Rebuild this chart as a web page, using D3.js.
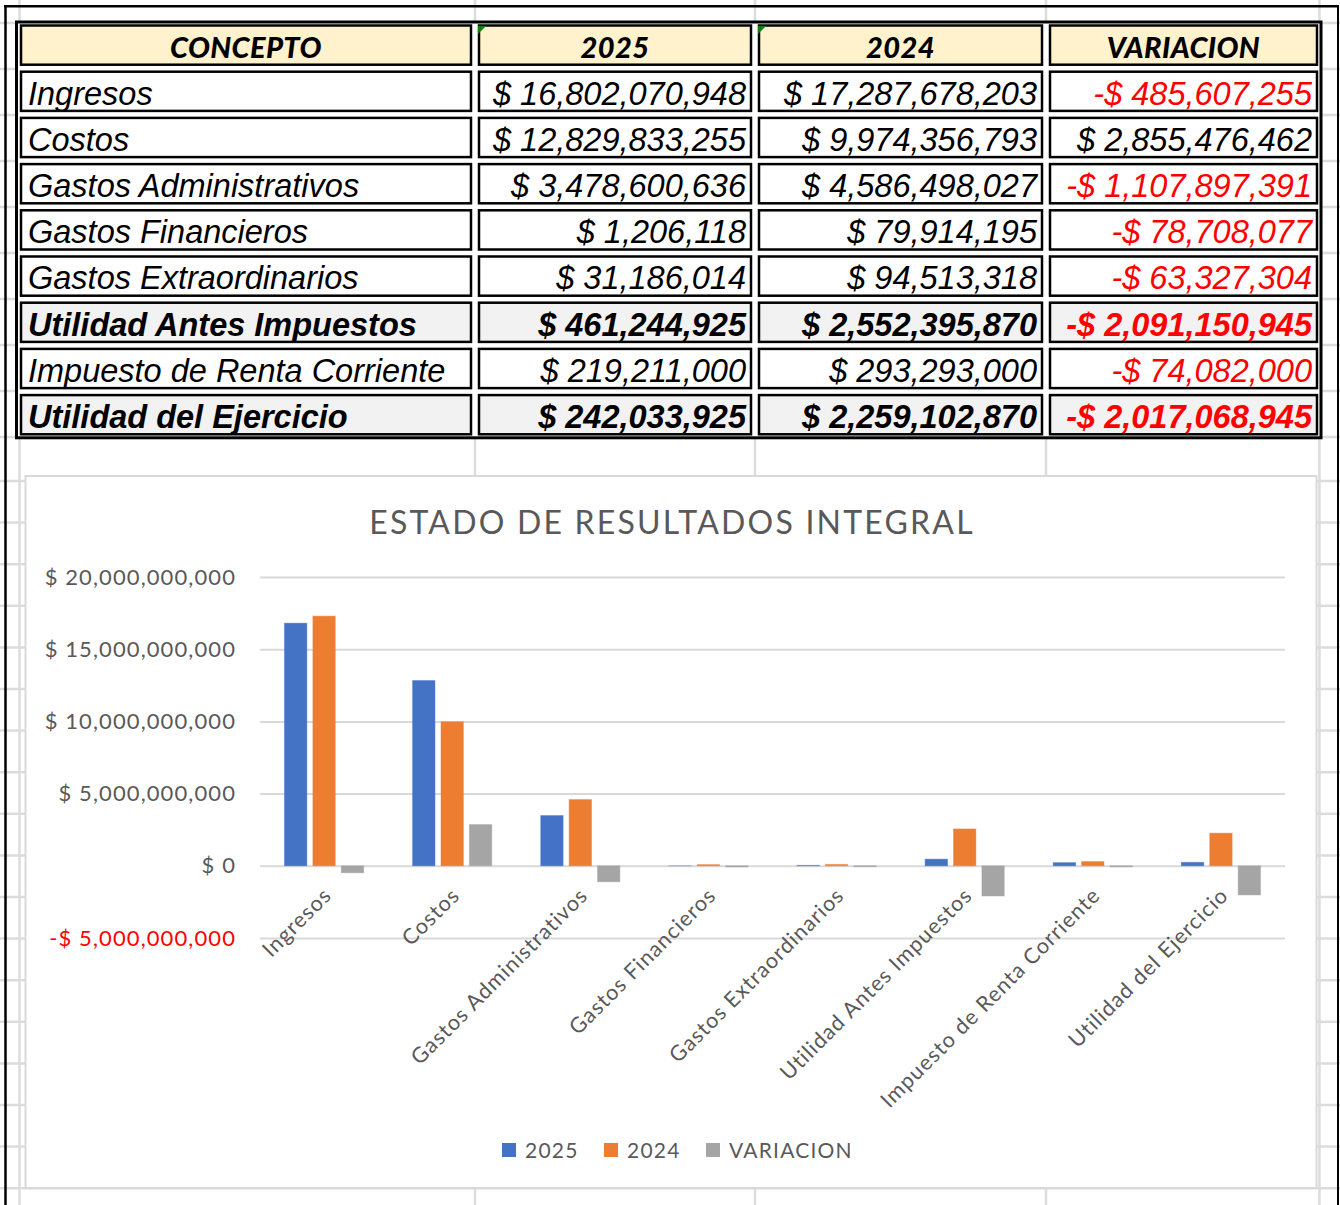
<!DOCTYPE html>
<html>
<head>
<meta charset="utf-8">
<script src="https://cdn.jsdelivr.net/npm/d3@7"></script>
<style>
	body { margin: 0; background: #ffffff; }
	svg { display: block; }
</style>
</head>
<body>
<div id="sheet_div" style="width:1340px;height:1205px;"></div>
<script>
var encabezados = ['CONCEPTO', '2025', '2024', 'VARIACION'];
var conceptos = [
	'Ingresos',
	'Costos',
	'Gastos Administrativos',
	'Gastos Financieros',
	'Gastos Extraordinarios',
	'Utilidad Antes Impuestos',
	'Impuesto de Renta Corriente',
	'Utilidad del Ejercicio',
];
var valores_2025 = [16802070948, 12829833255, 3478600636, 1206118, 31186014, 461244925, 219211000, 242033925];
var valores_2024 = [17287678203, 9974356793, 4586498027, 79914195, 94513318, 2552395870, 293293000, 2259102870];
var variacion = [-485607255, 2855476462, -1107897391, -78708077, -63327304, -2091150945, -74082000, -2017068945];
var filas_total = ['Utilidad Antes Impuestos', 'Utilidad del Ejercicio'];
var series = ['2025', '2024', 'VARIACION'];
var y_ticks = [-5000000000, 0, 5000000000, 10000000000, 15000000000, 20000000000];

var colores = { '2025': '#4472C4', '2024': '#ED7D31', VARIACION: '#A5A5A5' };
var grid_gray = '#dcdcdc';

function money(v) {
	var txt = '$ ' + d3.format(',')(Math.abs(v));
	return v < 0 ? '-' + txt : txt;
}

function draw_svg(div_id) {
	var chart_div = document.getElementById(div_id);
	return d3
		.select('#' + div_id)
		.append('svg')
		.attr('width', chart_div.clientWidth)
		.attr('height', chart_div.clientHeight);
}

function draw_sheet(svg) {
	//spreadsheet gridlines behind everything
	var g = svg.append('g').attr('stroke', grid_gray).attr('stroke-width', 2.5);
	var col_lines = [19.5, 475, 755, 1046, 1319.5];
	g.selectAll('.vline')
		.data(col_lines)
		.enter()
		.append('line')
		.attr('x1', (d) => d)
		.attr('x2', (d) => d)
		.attr('y1', 0)
		.attr('y2', 1205);
	var row_lines = d3.range(10).map((i) => 23 + i * 46);
	row_lines = row_lines.concat(d3.range(18).map((i) => 481 + i * 41.6));
	g.selectAll('.hline')
		.data(row_lines)
		.enter()
		.append('line')
		.attr('x1', 0)
		.attr('x2', 1340)
		.attr('y1', (d) => d)
		.attr('y2', (d) => d);

	//black frame of the sheet
	var f = svg.append('g').attr('stroke', '#000000');
	f.append('line').attr('x1', 5.5).attr('x2', 5.5).attr('y1', 5).attr('y2', 1205).attr('stroke-width', 2.5);
	f.append('line').attr('x1', 4).attr('x2', 1339).attr('y1', 6.2).attr('y2', 6.2).attr('stroke-width', 2.5);
	f.append('line').attr('x1', 1338).attr('x2', 1338).attr('y1', 5).attr('y2', 1205).attr('stroke-width', 2);
}

function draw_table(svg) {
	var col_edges = [17, 475, 755, 1046, 1321];
	var row_top = 22;
	var row_h = 46.2;
	var table = svg.append('g').attr('class', 'tabla');

	var filas = [{ header: true, cells: encabezados }];
	conceptos.forEach(function (c, i) {
		filas.push({
			header: false,
			total: filas_total.indexOf(c) > -1,
			cells: [c, money(valores_2025[i]), money(valores_2024[i]), money(variacion[i])],
			neg: variacion[i] < 0,
		});
	});

	table
		.append('rect')
		.attr('x', 16.5)
		.attr('y', row_top)
		.attr('width', col_edges[4] - 16.5)
		.attr('height', row_h * filas.length)
		.attr('fill', 'white')
		.attr('stroke', '#000')
		.attr('stroke-width', 3);

	filas.forEach(function (fila, r) {
		var y0 = row_top + r * row_h;
		var fill = fila.header ? '#FFF2CC' : fila.total ? '#F2F2F2' : '#FFFFFF';
		fila.cells.forEach(function (txt, c) {
			var x0 = col_edges[c];
			var x1 = col_edges[c + 1];
			table
				.append('rect')
				.attr('x', x0 + 4)
				.attr('y', y0 + 3.5)
				.attr('width', x1 - x0 - 8)
				.attr('height', row_h - 7)
				.attr('fill', fill)
				.attr('stroke', '#000')
				.attr('stroke-width', 2.5);

			var t = table.append('text').attr('y', y0 + row_h / 2 + 2).attr('dy', '0.35em').text(txt);
			if (fila.header) {
				t.attr('x', (x0 + x1) / 2)
					.attr('y', y0 + row_h / 2 + 3)
					.attr('text-anchor', 'middle')
					.attr('font-family', 'Lato')
					.attr('font-weight', 900)
					.attr('font-style', 'italic')
					.attr('font-size', 29)
					.attr('letter-spacing', 0.4);
			} else {
				t.attr('font-family', 'Liberation Sans')
					.attr('font-style', 'italic')
					.attr('font-weight', fila.total ? 700 : 400)
					.attr('font-size', 32.5)
					.attr('fill', c === 3 && fila.neg ? '#FF0000' : '#000000');
				if (c === 0) {
					t.attr('x', x0 + 11);
				} else {
					t.attr('x', x1 - 9).attr('text-anchor', 'end');
				}
			}
		});
	});

	//excel green error markers
	[col_edges[1], col_edges[2]].forEach(function (x) {
		table
			.append('path')
			.attr('d', 'M' + (x + 3) + ',' + (row_top + 4) + 'h8l-8,8z')
			.attr('fill', '#107C10');
	});
}

function draw_chart(svg) {
	var box = svg.append('g').attr('class', 'chart_box');
	box.append('rect')
		.attr('x', 25.5)
		.attr('y', 476)
		.attr('width', 1291)
		.attr('height', 712)
		.attr('fill', 'white')
		.attr('stroke', '#d9d9d9')
		.attr('stroke-width', 2);

	box.append('text')
		.attr('x', 672)
		.attr('y', 534)
		.attr('text-anchor', 'middle')
		.attr('font-family', 'Lato')
		.attr('font-size', 32)
		.attr('letter-spacing', 2.2)
		.attr('fill', '#595959')
		.text('ESTADO DE RESULTADOS INTEGRAL');

	var x = d3.scaleBand().domain(conceptos).range([260, 1285]);
	var xs = d3.scaleBand().domain(series).range([0, x.bandwidth()]).paddingInner(0.2126).paddingOuter(0.862);
	var y = d3.scaleLinear().domain([-5000000000, 20000000000]).range([938, 577]);

	var y_axis = box
		.append('g')
		.attr('transform', 'translate(260,0)')
		.call(
			d3
				.axisLeft(y)
				.tickValues(y_ticks)
				.tickSize(-(1285 - 260))
				.tickPadding(24)
				.tickFormat(money)
		);
	y_axis.select('.domain').remove();
	y_axis.selectAll('.tick line').attr('stroke', '#d9d9d9').attr('stroke-width', 2);
	y_axis
		.selectAll('.tick text')
		.attr('font-family', 'Lato')
		.attr('font-size', 22)
		.attr('letter-spacing', 1.1)
		.attr('fill', (d) => (d < 0 ? '#FF0000' : '#595959'));

	var tabla_barras = [];
	conceptos.forEach(function (c, i) {
		tabla_barras.push({ concepto: c, serie: '2025', valor: valores_2025[i] });
		tabla_barras.push({ concepto: c, serie: '2024', valor: valores_2024[i] });
		tabla_barras.push({ concepto: c, serie: 'VARIACION', valor: variacion[i] });
	});

	box.append('g')
		.selectAll('rect')
		.data(tabla_barras)
		.enter()
		.append('rect')
		.attr('x', (d) => x(d.concepto) + xs(d.serie))
		.attr('width', xs.bandwidth())
		.attr('y', (d) => y(Math.max(0, d.valor)))
		.attr('height', (d) => Math.abs(y(d.valor) - y(0)))
		.attr('fill', (d) => colores[d.serie])
		.attr('stroke', (d) => colores[d.serie])
		.attr('stroke-opacity', 0.45)
		.attr('stroke-width', 1);

	box.append('g')
		.selectAll('text')
		.data(conceptos)
		.enter()
		.append('text')
		.attr('transform', (d) => 'translate(' + (x(d) + x.bandwidth() / 2 - 2) + ',886) rotate(-45)')
		.attr('text-anchor', 'end')
		.attr('dy', '0.71em')
		.attr('font-family', 'Lato')
		.attr('font-size', 21.5)
		.attr('letter-spacing', 1.05)
		.attr('fill', '#595959')
		.text((d) => d);

	var legend_x = [502, 604, 706];
	var legend = box
		.append('g')
		.selectAll('g')
		.data(series)
		.enter()
		.append('g')
		.attr('transform', (d, i) => 'translate(' + legend_x[i] + ',1143)');
	legend.append('rect').attr('width', 14).attr('height', 14).attr('fill', (d) => colores[d]);
	legend
		.append('text')
		.attr('x', 23)
		.attr('y', 7)
		.attr('dy', '0.36em')
		.attr('font-family', 'Lato')
		.attr('font-size', 21)
		.attr('letter-spacing', 1.2)
		.attr('fill', '#595959')
		.text((d) => d);
}

var svg = draw_svg('sheet_div');
draw_sheet(svg);
draw_table(svg);
draw_chart(svg);
</script>
</body>
</html>
